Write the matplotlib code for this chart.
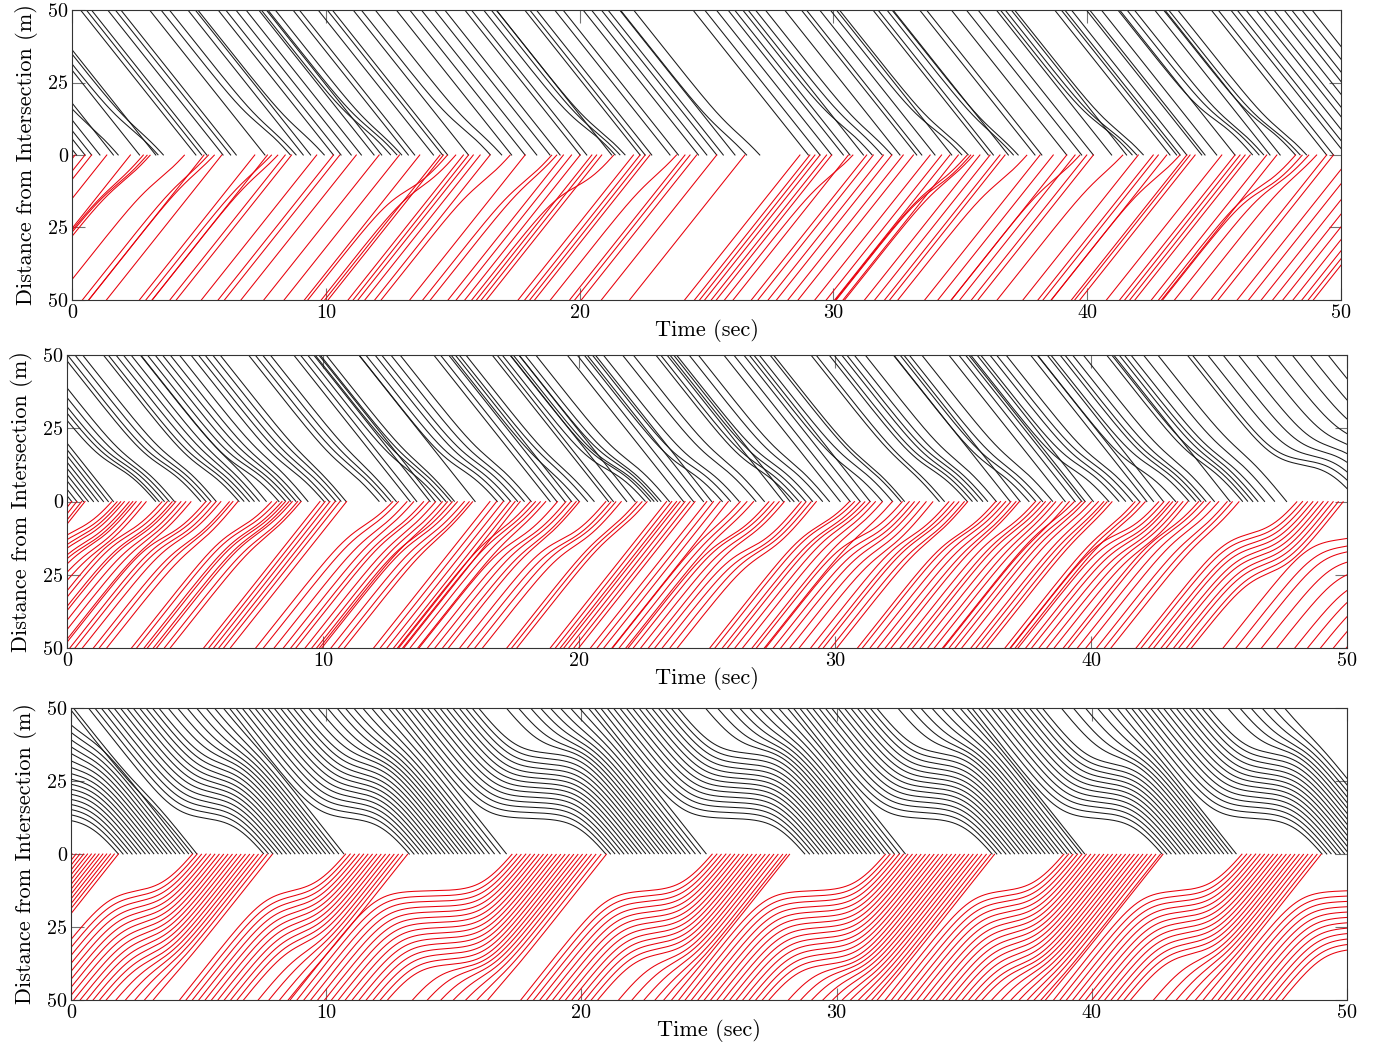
import numpy as np
import matplotlib
matplotlib.use("Agg")
import matplotlib.pyplot as plt

plt.rcParams['font.family'] = 'cmr10'
plt.rcParams['axes.formatter.use_mathtext'] = True

SPEED = 11.0    # cruising speed (m/s)
SMOOTH = 0.45   # how quickly a car brakes / pulls away (s)

# ---------------- Panel 1 ----------------
# crossing times (s) of cars that never slow down
p1_black_free = [0.18, 0.51, 0.77, 1.10, 1.63, 2.66, 3.30, 4.88, 5.11, 5.31, 5.95, 6.25, 6.47,
                 7.60, 9.11, 9.40, 10.30, 10.60, 11.00, 11.40, 11.90, 12.20, 13.25, 13.50, 14.24,
                 14.60, 14.80, 15.62, 17.32, 17.85, 18.31, 18.83, 19.23, 20.02, 20.28, 21.26,
                 22.38, 22.58, 22.84, 23.56, 23.89, 24.68, 25.01, 25.40, 25.66, 26.12, 29.01,
                 29.47, 29.93, 30.39, 30.65, 31.18, 32.62, 33.28, 33.48, 34.00, 34.66, 36.10,
                 36.30, 36.89, 37.94, 38.21, 39.19, 39.78, 40.24, 40.96, 41.55, 43.26, 43.52,
                 43.66, 43.92, 44.51, 44.64, 45.10, 45.82, 47.20, 47.60, 49.43, 49.70, 50.20,
                 50.45, 50.80, 51.20, 51.50, 51.90, 52.30, 52.60, 53.00, 53.40]
# cars that ease off: crossing time, time lost (s), where they ease off (m)
p1_black_slow_t = [1.86, 3.45, 3.66, 8.65, 8.88, 10.00, 12.60, 12.86, 13.05, 16.54, 16.99, 21.46,
                   21.66, 21.86, 26.65, 27.17, 31.57, 31.97, 32.36, 35.12, 35.38, 37.15, 37.35,
                   41.82, 42.01, 42.28, 46.55, 46.81, 47.00, 48.25, 48.45, 48.71]
p1_black_slow_delay = [0.5, 0.6, 0.5, 0.6, 0.5, 0.5, 0.6, 0.6, 0.5, 0.6, 0.5, 0.7, 0.6, 0.6, 0.5,
                       0.5, 0.6, 0.5, 0.5, 0.7, 0.6, 0.5, 0.5, 0.7, 0.7, 0.6, 0.8, 0.7, 0.6, 0.7,
                       0.7, 0.6]
p1_black_slow_stop = [10, 9, 8, 10, 9, 8, 10, 9, 8, 9, 8, 9, 8, 8, 7, 7, 10, 9, 8, 9, 8, 8, 7,
                      10, 9, 8, 12, 11, 10, 10, 9, 8]

p1_red_free = [0.12, 0.51, 0.77, 1.37, 2.30, 5.20, 5.90, 7.20, 7.70, 8.40, 8.65, 9.64, 10.30,
               10.55, 11.20, 12.10, 12.90, 13.70, 14.50, 14.63, 15.42, 15.62, 15.81, 16.08, 16.47,
               17.85, 19.36, 19.68, 20.02, 20.48, 20.67, 20.87, 22.12, 22.38, 22.58, 22.77, 24.15,
               24.35, 24.61, 25.40, 26.51, 28.68, 29.07, 29.27, 29.47, 29.73, 29.93, 30.59, 31.31,
               31.57, 31.97, 32.30, 32.75, 33.15, 33.81, 34.26, 34.59, 34.92, 35.77, 36.17, 36.56,
               36.76, 38.14, 38.66, 39.19, 39.52, 39.98, 40.24, 42.01, 42.60, 42.80, 43.13, 43.92,
               44.05, 44.25, 45.30, 45.82, 46.02, 46.22, 46.42, 47.07, 47.47, 49.43, 49.70, 50.45,
               50.90, 51.40, 51.85, 52.25, 52.65, 53.00, 53.25, 53.45]
p1_red_slow_t = [2.85, 3.01, 3.14, 4.50, 5.45, 5.70, 7.95, 8.20, 14.83, 15.16, 17.32, 18.96,
                 19.16, 21.39, 23.89, 30.85, 35.32, 35.45, 35.58, 37.68, 39.78, 41.49, 43.72,
                 48.25, 48.51, 48.78, 49.11]
p1_red_slow_delay = [0.5, 0.6, 0.6, 0.6, 0.5, 0.5, 0.5, 0.5, 1.0, 0.8, 0.6, 0.6, 0.5, 1.1, 0.5,
                     0.6, 0.7, 0.8, 0.6, 0.6, 0.6, 0.5, 0.6, 0.9, 1.0, 0.8, 0.5]
p1_red_slow_stop = [10, 10, 9, 8, 7, 6, 6, 6, 12, 11, 9, 9, 8, 11, 7, 7, 10, 11, 9, 9, 8, 6, 8,
                    11, 12, 10, 7]

# ---------------- Panel 2 ----------------
p2_black_free = [0.18, 0.38, 0.64, 0.83, 1.03, 1.22, 1.42, 1.61, 1.81, 13.40, 13.66, 14.18, 14.38,
                 15.94, 18.87, 19.13, 19.45, 19.71, 21.15, 21.34, 21.86, 22.19, 24.08, 24.47,
                 24.86, 25.18, 27.98, 28.24, 30.20, 30.59, 30.98, 31.37, 36.84, 37.23, 38.99,
                 39.38, 39.64, 39.77, 40.09, 42.18, 42.44, 42.83, 45.43]
p2_black_slow_t = [3.50, 3.63, 3.83, 4.02, 4.22, 5.26, 5.46, 5.65, 5.85, 6.76, 6.95, 7.15, 7.34,
                   7.54, 7.80, 8.32, 8.58, 8.78, 8.97, 9.17, 9.43, 10.08, 10.27, 10.53, 10.73,
                   10.92, 12.23, 12.49, 12.68, 12.88, 14.64, 14.83, 15.03, 15.16, 16.85, 17.11,
                   17.37, 17.63, 17.89, 18.15, 20.04, 20.36, 20.62, 22.64, 22.84, 22.97, 23.10,
                   23.23, 23.55, 25.64, 25.96, 26.29, 26.94, 27.26, 28.44, 28.63, 28.89, 29.15,
                   29.54, 29.80, 31.89, 32.28, 32.60, 32.74, 34.10, 34.30, 35.21, 35.40, 35.60,
                   35.80, 35.99, 36.32, 37.62, 37.88, 38.14, 38.53, 40.74, 41.13, 41.39, 41.65,
                   41.92, 43.35, 43.87, 44.13, 44.32, 44.52, 44.84, 45.95, 46.15, 46.34, 46.54,
                   46.80, 47.19, 47.65, 50.50, 50.80, 51.10, 51.50, 51.90, 52.40, 52.90, 53.40,
                   53.90, 54.40]
p2_black_slow_delay = [1.0, 0.9, 0.9, 0.8, 0.7, 0.9, 0.9, 0.8, 0.7, 0.8, 0.8, 0.7, 0.6, 0.5, 0.4,
                       0.9, 0.9, 0.8, 0.7, 0.6, 0.5, 0.7, 0.6, 0.6, 0.5, 0.4, 0.6, 0.6, 0.5, 0.4,
                       0.7, 0.6, 0.6, 0.5, 0.9, 0.9, 0.8, 0.8, 0.7, 0.6, 0.5, 0.5, 0.5, 1.1, 1.0,
                       1.0, 0.9, 0.8, 0.7, 0.9, 0.9, 0.8, 0.7, 0.6, 0.9, 0.9, 0.8, 0.8, 0.7, 0.6,
                       0.7, 0.7, 0.6, 0.6, 0.5, 0.5, 0.9, 0.9, 0.8, 0.8, 0.7, 0.6, 0.8, 0.8, 0.7,
                       0.6, 0.9, 0.9, 0.8, 0.8, 0.7, 0.9, 0.9, 0.8, 0.8, 0.7, 0.6, 0.8, 0.8, 0.7,
                       0.7, 0.7, 0.6, 0.5, 2.2, 2.3, 2.0, 1.8, 1.6, 1.4, 1.2, 1.0, 0.8, 0.6]
p2_black_slow_stop = [12, 12.5, 13, 13, 13, 12, 12.5, 13, 13.5, 11, 12, 12, 13, 13, 14, 11, 12,
                      12, 13, 13, 14, 11, 12, 12, 13, 13, 11, 12, 12, 13, 11, 12, 12, 13, 11, 12,
                      12, 13, 13, 14, 11, 12, 12, 11, 12, 12, 13, 13, 14, 11, 12, 12, 13, 14, 11,
                      12, 12, 13, 13, 14, 11, 12, 12, 13, 12, 12, 11, 12, 12, 13, 13, 14, 11, 12,
                      12, 13, 11, 12, 12, 13, 13, 11, 12, 12, 13, 13, 14, 13, 14, 14, 15, 15, 16,
                      17, 12.5, 14, 15.5, 17, 18.5, 20, 21.5, 23, 24.5, 26]

p2_red_free = [0.18, 0.38, 0.57, 0.70, 9.88, 10.08, 10.27, 10.47, 10.66, 10.92, 16.52, 16.78,
               17.04, 17.30, 17.50, 17.70, 23.42, 23.62, 23.81, 23.95, 24.14, 24.34, 24.53, 24.99,
               25.25, 25.51, 25.83]
p2_red_slow_t = [1.81, 2.01, 2.14, 2.27, 2.46, 2.59, 2.72, 2.92, 3.11, 3.76, 3.96, 4.15, 4.28,
                 4.48, 4.67, 4.87, 5.46, 5.65, 5.85, 6.04, 6.37, 6.50, 6.69, 8.06, 8.26, 8.45,
                 8.58, 8.71, 8.84, 9.04, 9.17, 12.81, 13.01, 13.33, 13.59, 13.98, 14.18, 14.44,
                 14.70, 14.90, 15.09, 15.29, 15.55, 15.74, 15.87, 18.15, 18.35, 18.54, 18.74,
                 19.19, 19.52, 19.71, 19.91, 20.04, 21.08, 21.28, 21.47, 21.67, 22.32, 22.51,
                 22.71, 26.35, 26.61, 26.87, 27.46, 27.66, 27.85, 28.05, 28.70, 28.89, 29.09,
                 29.28, 30.65, 30.85, 31.04, 31.24, 31.43, 31.63, 31.90, 32.28, 32.67, 32.93,
                 33.13, 33.32, 33.58, 33.84, 34.49, 34.69, 34.88, 35.08, 35.21, 36.32, 36.51,
                 36.71, 36.90, 37.10, 37.23, 37.88, 38.07, 38.27, 38.46, 38.66, 38.92, 39.18,
                 39.44, 39.70, 39.83, 40.09, 40.35, 40.55, 40.68, 40.87, 41.78, 41.98, 42.18,
                 42.70, 42.89, 43.09, 43.22, 43.41, 43.61, 43.80, 44.26, 44.45, 44.71, 45.04,
                 45.36, 45.56, 45.82, 48.10, 48.30, 48.49, 48.69, 48.88, 49.08, 49.27, 49.47,
                 49.67, 49.86, 52.20, 52.60, 52.80, 53.30, 53.70, 54.20, 54.60, 55.00, 55.40,
                 55.80]
p2_red_slow_delay = [1.2, 1.2, 1.1, 1.1, 1.0, 1.0, 0.9, 0.8, 0.7, 1.0, 1.0, 0.9, 0.9, 0.8, 0.7,
                     0.6, 1.1, 1.0, 1.0, 0.9, 0.8, 0.7, 0.6, 1.0, 1.0, 0.9, 0.9, 0.8, 0.8, 0.7,
                     0.6, 0.9, 0.8, 0.7, 0.6, 0.7, 0.7, 0.6, 0.6, 0.5, 0.8, 0.8, 0.7, 0.6, 0.5,
                     0.7, 0.7, 0.6, 0.5, 0.9, 0.9, 0.8, 0.7, 0.6, 1.2, 1.1, 1.0, 0.9, 0.6, 0.6,
                     0.6, 0.5, 0.5, 0.5, 1.0, 1.0, 0.9, 0.8, 1.2, 1.1, 1.0, 0.9, 1.0, 1.0, 0.9,
                     0.9, 0.8, 0.7, 0.6, 0.5, 1.2, 1.1, 1.0, 0.9, 0.8, 0.7, 0.9, 0.8, 0.8, 0.7,
                     0.6, 0.9, 0.9, 0.8, 0.7, 0.6, 0.5, 0.8, 0.7, 0.7, 0.6, 0.5, 0.5, 0.4, 0.7,
                     0.7, 0.6, 0.6, 0.5, 0.5, 0.4, 0.4, 0.6, 0.6, 0.6, 1.3, 1.2, 1.1, 1.0, 0.9,
                     0.8, 0.7, 0.8, 0.8, 0.7, 0.7, 0.6, 0.5, 0.5, 1.8, 1.8, 1.7, 1.7, 1.6, 1.6,
                     1.5, 1.5, 1.4, 1.4, 2.5, 2.4, 2.2, 2.1, 1.9, 1.7, 1.6, 1.5, 1.4, 1.3]
p2_red_slow_stop = [10, 11, 12, 13, 14, 15, 15, 16, 16, 11, 11.5, 12, 12.5, 13, 13, 13, 12, 12,
                    13, 13, 14, 14, 15, 9, 9.5, 10, 10.5, 11, 11, 12, 12, 8, 9, 10, 10, 10, 10,
                    11, 11, 11, 12, 12, 12, 13, 13, 10, 10, 10, 10, 13, 13, 13, 14, 14, 13, 14,
                    14, 15, 10, 10, 10, 9, 9, 9, 12, 12, 13, 13, 16, 17, 17, 18, 8, 8, 9, 9, 9,
                    10, 10, 10, 12, 13, 14, 15, 16, 17, 12, 12, 12, 13, 13, 11, 11, 11, 12, 12,
                    12, 10, 10, 10, 11, 11, 11, 11, 7, 7, 8, 8, 8, 9, 9, 9, 9, 9, 9, 11, 12, 13,
                    14, 15, 15, 16, 10, 10, 10, 10, 11, 11, 11, 11, 12.5, 14, 15.5, 17, 18.5, 20,
                    21.5, 23, 24.5, 12.9, 15.2, 16.9, 19.7, 23.1, 26.5, 28, 30, 32, 34]

# ---------------- Panel 3 ----------------
p3_black_free = []
p3_black_slow_t = [1.90, 2.07, 2.24, 2.41, 2.58, 2.75, 2.92, 3.09, 3.26, 3.43, 3.60, 3.77, 3.94,
                   4.11, 4.28, 4.45, 4.62, 4.78, 4.94,
                   7.60, 7.77, 7.94, 8.11, 8.28, 8.45, 8.62, 8.79, 8.96, 9.13, 9.30, 9.47, 9.64,
                   9.81, 9.98, 10.15, 10.32, 10.50, 10.70,
                   13.30, 13.47, 13.64, 13.81, 13.98, 14.15, 14.32, 14.49, 14.66, 14.83, 15.00,
                   15.17, 15.34, 15.51, 15.68, 15.85, 16.02, 16.20, 16.40, 16.60, 16.83, 17.07,
                   21.00, 21.17, 21.34, 21.51, 21.68, 21.85, 22.02, 22.19, 22.36, 22.53, 22.70,
                   22.87, 23.04, 23.21, 23.38, 23.55, 23.72, 23.90, 24.08, 24.27, 24.47, 24.68,
                   24.90,
                   28.80, 28.97, 29.14, 29.31, 29.48, 29.65, 29.82, 29.99, 30.16, 30.33, 30.50,
                   30.67, 30.84, 31.01, 31.18, 31.35, 31.52, 31.70, 31.88, 32.07, 32.27, 32.48,
                   32.70,
                   36.14, 36.31, 36.48, 36.65, 36.82, 36.99, 37.16, 37.33, 37.50, 37.67, 37.84,
                   38.01, 38.18, 38.35, 38.52, 38.69, 38.86, 39.04, 39.22, 39.41, 39.60, 39.73,
                   42.80, 42.97, 43.14, 43.31, 43.48, 43.65, 43.82, 43.99, 44.16, 44.33, 44.50,
                   44.67, 44.84, 45.01, 45.18, 45.35, 45.51, 45.67,
                   49.07, 49.24, 49.41, 49.58, 49.75, 49.92, 50.09, 50.26, 50.43, 50.60, 50.77,
                   50.94, 51.11, 51.28, 51.45, 51.62, 51.80, 51.98, 52.17, 52.37]
p3_black_slow_delay = [3.0, 3.0, 3.0, 3.0, 2.8, 2.6, 2.4, 2.2, 2.0, 1.8, 1.6, 1.4, 1.2, 1.1, 1.0,
                       0.9, 0.8, 0.3, 0.3,
                       2.37, 2.29, 2.21, 2.13, 2.05, 1.97, 1.89, 1.81, 1.73, 1.65, 1.57, 1.49,
                       1.3, 1.1, 0.9, 0.7, 0.5, 0.35, 0.2,
                       2.55, 2.47, 2.39, 2.31, 2.23, 2.15, 2.07, 1.99, 1.91, 1.83, 1.75, 1.67,
                       1.5, 1.3, 1.1, 0.9, 0.75, 0.6, 0.45, 0.3, 0.2, 0.1,
                       3.75, 3.67, 3.59, 3.51, 3.43, 3.35, 3.27, 3.19, 3.11, 3.03, 2.95, 2.87,
                       2.79, 2.71, 1.8, 1.5, 1.2, 1.0, 0.8, 0.6, 0.4, 0.25, 0.1,
                       3.75, 3.67, 3.59, 3.51, 3.43, 3.35, 3.27, 3.19, 3.11, 3.03, 2.95, 2.87,
                       2.79, 2.71, 1.8, 1.5, 1.2, 1.0, 0.8, 0.6, 0.4, 0.25, 0.1,
                       3.29, 3.21, 3.13, 3.05, 2.97, 2.89, 2.81, 2.73, 2.65, 2.57, 2.49, 2.41,
                       2.33, 2.25, 1.6, 1.3, 1.05, 0.8, 0.6, 0.4, 0.25, 0.1,
                       2.95, 2.87, 2.79, 2.71, 2.63, 2.55, 2.47, 2.39, 2.31, 2.23, 2.15, 2.07,
                       1.5, 1.2, 0.9, 0.6, 0.35, 0.15,
                       3.22, 3.14, 3.06, 2.98, 2.90, 2.82, 2.74, 2.66, 2.58, 2.50, 2.42, 2.34,
                       2.26, 2.18, 1.6, 1.3, 1.05, 0.8, 0.55, 0.3]
p3_black_slow_stop = [12.2, 14.2, 16.0, 17.7, 19.4, 21.1, 22.7, 24.3, 25.9, 27.5, 29.2, 30.9,
                      32.7, 34.5, 36.5, 38.6, 40.8, 20, 22,
                      12.2, 14.2, 16.0, 17.7, 19.4, 21.1, 22.7, 24.3, 25.9, 27.5, 29.2, 30.9,
                      32.5, 33.5, 34.5, 35.5, 36.5, 37.5, 38.5,
                      12.2, 14.2, 16.0, 17.7, 19.4, 21.1, 22.7, 24.3, 25.9, 27.5, 29.2, 30.9,
                      32.5, 33.5, 34.5, 35.5, 36.5, 37.5, 38.5, 39.5, 40.5, 41.5,
                      12.2, 14.2, 16.0, 17.7, 19.4, 21.1, 22.7, 24.3, 25.9, 27.5, 29.2, 30.9,
                      32.7, 34.5, 36, 37, 38, 39, 40, 41, 42, 43, 44,
                      12.2, 14.2, 16.0, 17.7, 19.4, 21.1, 22.7, 24.3, 25.9, 27.5, 29.2, 30.9,
                      32.7, 34.5, 36, 37, 38, 39, 40, 41, 42, 43, 44,
                      12.2, 14.2, 16.0, 17.7, 19.4, 21.1, 22.7, 24.3, 25.9, 27.5, 29.2, 30.9,
                      32.7, 34.5, 36, 37, 38, 39, 40, 41, 42, 43,
                      12.2, 14.2, 16.0, 17.7, 19.4, 21.1, 22.7, 24.3, 25.9, 27.5, 29.2, 30.9,
                      33, 34, 35, 36, 37, 38,
                      12.2, 14.2, 16.0, 17.7, 19.4, 21.1, 22.7, 24.3, 25.9, 27.5, 29.2, 30.9,
                      32.7, 34.5, 36, 37, 38, 39, 40, 41]

p3_red_free = [0.05, 0.20, 0.35, 0.50, 0.65, 0.80, 0.95, 1.10, 1.25, 1.40, 1.55, 1.70, 1.86]
p3_red_slow_t = [4.80, 4.97, 5.14, 5.31, 5.48, 5.65, 5.82, 5.99, 6.16, 6.33, 6.50, 6.67, 6.84,
                 7.01, 7.18, 7.35, 7.52, 7.70, 7.90,
                 10.80, 10.97, 11.14, 11.31, 11.48, 11.65, 11.82, 11.99, 12.16, 12.33, 12.50,
                 12.67, 12.84, 13.01, 13.20,
                 17.33, 17.50, 17.67, 17.84, 18.01, 18.18, 18.35, 18.52, 18.69, 18.86, 19.03,
                 19.20, 19.37, 19.54, 19.71, 19.88, 20.05, 20.22, 20.40, 20.58, 20.78, 20.99,
                 25.17, 25.34, 25.51, 25.68, 25.85, 26.02, 26.19, 26.36, 26.53, 26.70, 26.87,
                 27.04, 27.21, 27.38, 27.55, 27.72, 27.90, 28.05, 28.17,
                 31.96, 32.13, 32.30, 32.47, 32.64, 32.81, 32.98, 33.15, 33.32, 33.49, 33.66,
                 33.83, 34.00, 34.17, 34.34, 34.51, 34.68, 34.85, 35.02, 35.19, 35.36, 35.53,
                 35.70, 35.88, 36.05, 36.20,
                 38.95, 39.12, 39.29, 39.46, 39.63, 39.80, 39.97, 40.14, 40.31, 40.48, 40.65,
                 40.82, 40.99, 41.16, 41.33, 41.50, 41.67, 41.84, 42.01, 42.18, 42.35, 42.52,
                 42.70, 42.80,
                 45.93, 46.10, 46.27, 46.44, 46.61, 46.78, 46.95, 47.12, 47.29, 47.46, 47.63,
                 47.80, 47.97, 48.14, 48.31, 48.48, 48.66, 48.84, 49.00,
                 53.00, 53.17, 53.34, 53.51, 53.68, 53.85, 54.02, 54.19, 54.36, 54.53, 54.70,
                 54.87]
p3_red_slow_delay = [2.15, 2.07, 1.99, 1.91, 1.83, 1.75, 1.67, 1.59, 1.51, 1.43, 1.35, 1.27,
                     1.19, 1.11, 0.9, 0.7, 0.5, 0.3, 0.15,
                     2.0, 1.92, 1.84, 1.76, 1.68, 1.6, 1.52, 1.44, 1.36, 1.28, 1.2, 0.8, 0.55,
                     0.3, 0.15,
                     4.2, 4.1, 4.0, 3.9, 3.8, 3.7, 3.6, 3.5, 3.4, 3.3, 3.2, 3.1, 3.0, 2.9, 2.8,
                     2.0, 1.6, 1.25, 0.95, 0.65, 0.4, 0.15,
                     3.0, 2.92, 2.84, 2.76, 2.68, 2.6, 2.52, 2.44, 2.36, 2.28, 2.2, 2.12, 2.04,
                     1.4, 1.05, 0.75, 0.5, 0.3, 0.1,
                     3.6, 3.52, 3.44, 3.36, 3.28, 3.2, 3.12, 3.04, 2.96, 2.88, 2.8, 2.72, 2.64,
                     2.56, 2.48, 1.9, 1.6, 1.35, 1.1, 0.9, 0.7, 0.55, 0.4, 0.3, 0.2, 0.1,
                     2.5, 2.42, 2.34, 2.26, 2.18, 2.1, 2.02, 1.94, 1.86, 1.78, 1.7, 1.62, 1.54,
                     1.46, 1.38, 1.3, 1.1, 0.9, 0.7, 0.55, 0.4, 0.3, 0.2, 0.1,
                     2.88, 2.8, 2.72, 2.64, 2.56, 2.48, 2.4, 2.32, 2.24, 2.16, 2.08, 2.0, 1.92,
                     1.2, 0.9, 0.65, 0.45, 0.25, 0.1,
                     3.75, 3.67, 3.59, 3.51, 3.43, 3.35, 3.27, 3.19, 3.11, 3.03, 2.95, 2.87]
p3_red_slow_stop = [12.6, 14.4, 16.2, 18.0, 19.8, 21.6, 23.4, 25.2, 27.0, 28.8, 30.6, 32.4,
                    34.2, 36.0, 37, 38, 39, 40, 41,
                    12.6, 14.4, 16.2, 18.0, 19.8, 21.6, 23.4, 25.2, 27.0, 28.8, 30.6, 33, 34,
                    35, 36,
                    12.6, 14.4, 16.2, 18.0, 19.8, 21.6, 23.4, 25.2, 27.0, 28.8, 30.6, 32.4,
                    34.2, 36.0, 37.8, 39, 40, 41, 42, 43, 44, 45,
                    12.6, 14.4, 16.2, 18.0, 19.8, 21.6, 23.4, 25.2, 27.0, 28.8, 30.6, 32.4,
                    34.2, 36, 37, 38, 39, 40, 41,
                    12.6, 14.4, 16.2, 18.0, 19.8, 21.6, 23.4, 25.2, 27.0, 28.8, 30.6, 32.4,
                    34.2, 36.0, 37.8, 39, 40, 41, 42, 43, 44, 45, 46, 47, 48, 49,
                    12.6, 14.4, 16.2, 18.0, 19.8, 21.6, 23.4, 25.2, 27.0, 28.8, 30.6, 32.4,
                    34.2, 36.0, 37.8, 39, 40, 41, 42, 43, 44, 45, 46, 47,
                    12.6, 14.4, 16.2, 18.0, 19.8, 21.6, 23.4, 25.2, 27.0, 28.8, 30.6, 32.4,
                    34.2, 36, 37, 38, 39, 40, 41,
                    12.6, 14.4, 16.2, 18.0, 19.8, 21.6, 23.4, 25.2, 27.0, 28.8, 30.6, 32.4]

x_ticks = [0, 10, 20, 30, 40, 50]
y_ticks = [-50, -25, 0, 25, 50]
y_tick_labels = ['50', '25', '0', '25', '50']


# Distance to the intersection over time for one car.
# A car that loses `delay` seconds brakes towards `stop` metres, waits, then pulls away.
def distance(t, t_cross, delay, stop):
    d = SPEED * (t_cross - t)
    if delay > 0:
        t_stop = t_cross - delay - stop / SPEED
        ramp = SMOOTH * (np.logaddexp(0, (t_stop + delay - t) / SMOOTH)
                         - np.logaddexp(0, (t_stop - t) / SMOOTH)) / delay
        d = d - SPEED * delay * ramp
    return d


def draw_cars(ax, free, slow_t, slow_delay, slow_stop, sign, color):
    cars = [(tc, 0.0, 0.0) for tc in free] + list(zip(slow_t, slow_delay, slow_stop))
    for tc, dl, st in cars:
        t = np.linspace(tc - dl - 60 / SPEED - 3 * SMOOTH, tc, 700)
        d = distance(t, tc, dl, st)
        keep = d >= 0
        ax.plot(t[keep], sign * d[keep], color=color, lw=0.75)


def style_axes(ax):
    ax.set_xlim(0, 50)
    ax.set_ylim(-50, 50)
    ax.set_xticks(x_ticks)
    ax.set_xticklabels([str(v) for v in x_ticks])
    ax.set_yticks(y_ticks)
    ax.set_yticklabels(y_tick_labels)
    ax.tick_params(direction='in', top=True, right=True, length=9, width=0.8,
                   color='0.45', labelsize=14.5, pad=3)
    for sp in ax.spines.values():
        sp.set_color('0.2')
        sp.set_linewidth(0.8)
    ax.set_xlabel('Time (sec)', fontsize=16, labelpad=-2)
    ax.set_ylabel('Distance from Intersection (m)', fontsize=16, labelpad=7)


def main():
    fig = plt.figure(figsize=(13.8, 10.42), dpi=100)

    panels = [
        ([0.0522, 0.7121, 0.9196, 0.2783],
         (p1_black_free, p1_black_slow_t, p1_black_slow_delay, p1_black_slow_stop),
         (p1_red_free, p1_red_slow_t, p1_red_slow_delay, p1_red_slow_stop)),
        ([0.0486, 0.3781, 0.9275, 0.2812],
         (p2_black_free, p2_black_slow_t, p2_black_slow_delay, p2_black_slow_stop),
         (p2_red_free, p2_red_slow_t, p2_red_slow_delay, p2_red_slow_stop)),
        ([0.0514, 0.0403, 0.9246, 0.2802],
         (p3_black_free, p3_black_slow_t, p3_black_slow_delay, p3_black_slow_stop),
         (p3_red_free, p3_red_slow_t, p3_red_slow_delay, p3_red_slow_stop)),
    ]

    for rect, black, red in panels:
        ax = fig.add_axes(rect)
        draw_cars(ax, *black, sign=1, color='#1a1a1a')
        draw_cars(ax, *red, sign=-1, color='#e8000b')
        style_axes(ax)

    fig.savefig('out.png', dpi=100)


if __name__ == "__main__":
    main()
